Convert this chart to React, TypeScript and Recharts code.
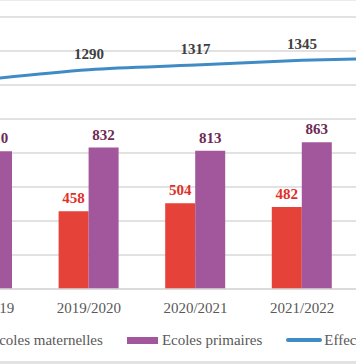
import React from "react";
import {
  ComposedChart,
  Bar,
  Line,
  XAxis,
  YAxis,
  CartesianGrid,
  LabelList,
} from "recharts";

const categories = ["2018/2019", "2019/2020", "2020/2021", "2021/2022", "2022/2023"];
const maternelles = [420, 458, 504, 482, 480];
const primaires = [810, 832, 813, 863, 882];
const effectif = [1230, 1290, 1317, 1345, 1362];
const yTicks = [0, 200, 400, 600, 800, 1000, 1200, 1400, 1600, 1800];

const data = categories.map((c, i) => ({
  cat: c,
  mat: maternelles[i],
  pri: primaires[i],
  eff: effectif[i],
}));

const RED = "#e5423a";
const PURPLE = "#a2579c";
const BLUE = "#3f8bc6";
const FONT = "'Liberation Serif', 'Times New Roman', serif";

const legendItems = [
  { label: "Ecoles maternelles", color: RED, type: "bar" },
  { label: "Ecoles primaires", color: PURPLE, type: "bar" },
  { label: "Effectif total", color: BLUE, type: "line" },
];

export default function App() {
  return (
    <div
      style={{
        position: "fixed",
        top: 0,
        left: 0,
        width: 356,
        height: 364,
        overflow: "hidden",
        background: "#ffffff",
        fontFamily: FONT,
      }}
    >
      <div style={{ position: "absolute", top: 0, left: 0, width: 356, height: 1, background: "#ececec" }} />
      <div style={{ position: "absolute", left: -71, top: -17 }}>
        <ComposedChart
          width={533}
          height={346}
          data={data}
          margin={{ top: 0, right: 0, left: 0, bottom: 0 }}
          barGap={0}
          barSize={30}
        >
          <CartesianGrid vertical={false} stroke="#d9d9d9" strokeWidth={1.5} />
          <XAxis
            dataKey="cat"
            height={40}
            tickLine={false}
            axisLine={{ stroke: "#d9d9d9", strokeWidth: 1.5 }}
            tickMargin={7}
            tick={{ fill: "#595959", fontSize: 15, fontFamily: FONT }}
            interval={0}
          />
          <YAxis hide domain={[0, 1800]} ticks={yTicks} width={0} />
          <Bar dataKey="mat" fill={RED} isAnimationActive={false}>
            <LabelList
              dataKey="mat"
              position="top"
              offset={8}
              fill="#e0302a"
              fontSize={15}
              fontWeight="bold"
              fontFamily={FONT}
            />
          </Bar>
          <Bar dataKey="pri" fill={PURPLE} isAnimationActive={false}>
            <LabelList
              dataKey="pri"
              position="top"
              offset={8}
              fill="#6e2a55"
              fontSize={15}
              fontWeight="bold"
              fontFamily={FONT}
            />
          </Bar>
          <Line
            type="monotone"
            dataKey="eff"
            stroke={BLUE}
            strokeWidth={3}
            dot={false}
            isAnimationActive={false}
          >
            <LabelList
              dataKey="eff"
              position="top"
              offset={11}
              fill="#404040"
              fontSize={15}
              fontWeight="bold"
              fontFamily={FONT}
            />
          </Line>
        </ComposedChart>
      </div>
      <div
        style={{
          position: "absolute",
          left: -45,
          top: 330,
          height: 20,
          display: "flex",
          alignItems: "center",
          gap: 24,
          whiteSpace: "nowrap",
        }}
      >
        {legendItems.map((it) => (
          <div key={it.label} style={{ display: "flex", alignItems: "center" }}>
            <div
              style={{
                width: it.type === "line" ? 36 : 31,
                height: it.type === "line" ? 4 : 7,
                borderRadius: it.type === "line" ? 2 : 0,
                background: it.color,
                marginRight: it.type === "line" ? 2 : 4,
              }}
            />
            <span style={{ fontSize: 15, color: "#595959", fontFamily: FONT }}>{it.label}</span>
          </div>
        ))}
      </div>
      <div style={{ position: "absolute", left: 0, top: 361, width: 356, height: 3, background: "#e2e2e2" }} />
    </div>
  );
}
